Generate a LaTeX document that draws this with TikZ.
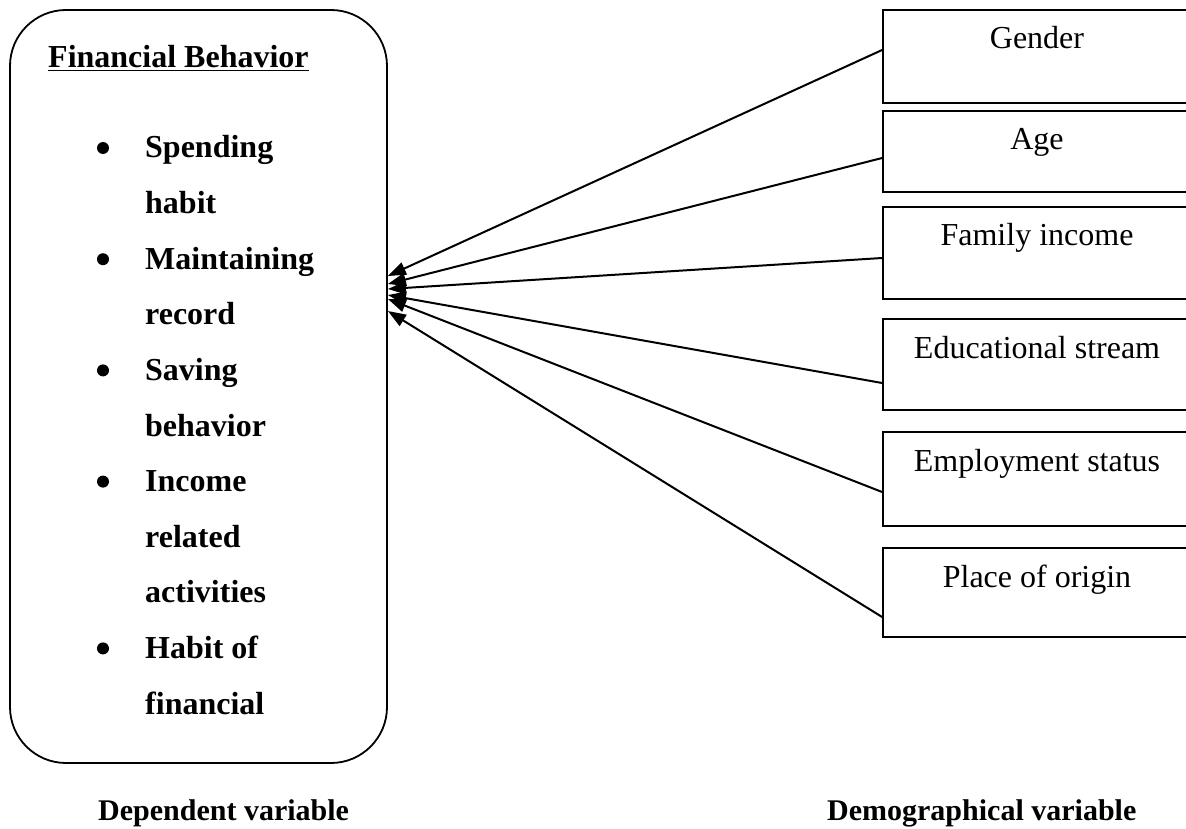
\documentclass[tikz,border=0pt]{standalone}
\usepackage{fontspec}
\setmainfont{Liberation Serif}
\usetikzlibrary{positioning,arrows.meta}

\begin{document}
\begin{tikzpicture}[x=1pt,y=-1pt,
  every node/.style={font=\fontsize{32}{38}\selectfont,inner sep=0pt},
  varbox/.style={draw,line width=1.8pt,minimum width=308pt},
  item/.style={anchor=base west,font=\fontsize{32}{38}\selectfont\bfseries},
  dot/.style={circle,fill,minimum size=12pt},
  link/.style={line width=2pt,-{Triangle[length=18pt,width=13pt]}}]
\clip (0,0) rectangle (1186,829);
\node[draw,line width=1.8pt,rounded corners=56pt,minimum width=377pt,minimum height=753pt](fb) at (198.5,386.5) {};
\node[item](title) at (48,68) {\underline{Financial Behavior}};
\foreach \t[count=\i from 0] in {Spending,habit,Maintaining,record,Saving,behavior,Income,related,activities,Habit of,financial}
  \node[item](l\i) at (145,{158+55.6*\i}) {\t};
\foreach \i in {0,2,4,6,9}
  \node[dot](b\i) at (103,{148+55.6*\i}) {};
\foreach \n/\t/\top/\h/\src/\tip in {
  gender/Gender/10/93/50/276,
  age/Age/111/81/158/284,
  income/Family income/207/92/258/289,
  stream/Educational stream/319/91/383/295,
  employment/Employment status/432/94/492/299,
  origin/Place of origin/548/89/617/311}
{
  \node[varbox,minimum height=\h pt](\n) at (1037,{\top+\h/2}) {};
  \node[anchor=base](\n t) at (1037,{\top+39}) {\t};
  \draw[link] ([yshift={\top+\h/2-\src}]\n.west) -- ([yshift={386.5-\tip}]fb.east);
}
\node[anchor=base west,font=\fontsize{30}{36}\selectfont\bfseries](dep) at (98,820) {Dependent variable};
\node[anchor=base west,font=\fontsize{30}{36}\selectfont\bfseries](demo) at (827,820) {Demographical variable};
\end{tikzpicture}
\end{document}
